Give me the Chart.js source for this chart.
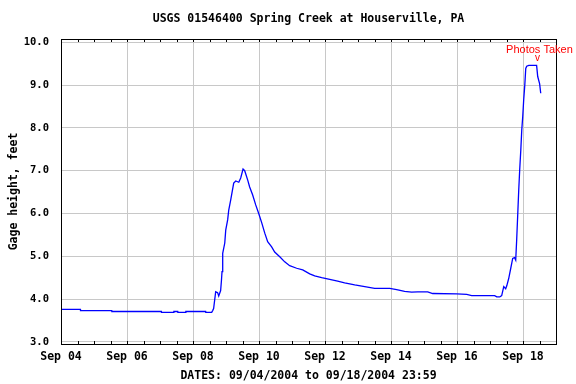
<!DOCTYPE html>
<html>
<head>
<meta charset="utf-8">
<script src="https://cdn.jsdelivr.net/npm/chart.js@4/dist/chart.umd.min.js"></script>
<style>
  html, body { margin: 0; padding: 0; background: #fff; }
  #wrap { width: 576px; height: 384px; }
</style>
</head>
<body>
<div id="wrap"><canvas id="gageChart"></canvas></div>
<script>
// ------- DATA -------
// hours since Sep 04 2004 00:00
var hours = [0, 14.1, 14.2, 36.9, 37.0, 73.0, 73.1, 82.0, 82.1, 84.9, 85.0, 90.7, 90.8, 105.2, 105.3,
  109.6, 110.3, 111.0, 112.5, 113.9, 114.7, 116.1, 116.7, 117.1, 117.6, 119.1, 119.8, 121.2, 122.0,
  123.4, 125.6, 127.1, 129.3, 130.7, 132.4, 133.6, 135.8, 137.2, 139.4, 141.6, 143.8, 146.0, 148.2,
  150.3, 153.2, 155.4, 159.1, 162.7, 166.3, 171.4, 175.8, 180.9, 184.5, 189.6, 195.4, 201.2, 206.3,
  213.6, 220.9, 228.1, 239.1, 244.1, 249.9, 255.0, 259.4, 266.7, 270.3, 287.8, 295.1, 298.7, 315.4,
  316.9, 319.1, 320.5, 322.0, 323.4, 324.2, 325.6, 327.1, 328.5, 329.8, 330.7, 331.4, 332.2, 332.9,
  333.6, 334.4, 335.1, 335.8, 336.5, 337.3, 338.0, 338.7, 340.2, 345.9, 346.7, 348.1, 348.9];

var gageFeet = [3.76, 3.76, 3.73, 3.73, 3.71, 3.71, 3.69, 3.69, 3.71, 3.71, 3.69, 3.69, 3.71, 3.71, 3.69,
  3.69, 3.73, 3.78, 4.17, 4.15, 4.07, 4.20, 4.44, 4.64, 5.07, 5.31, 5.61, 5.85, 6.08,
  6.31, 6.71, 6.76, 6.73, 6.83, 7.04, 7.00, 6.78, 6.62, 6.43, 6.20, 6.00, 5.78, 5.54,
  5.34, 5.22, 5.10, 4.99, 4.87, 4.78, 4.72, 4.68, 4.59, 4.54, 4.50, 4.46, 4.42, 4.38,
  4.33, 4.29, 4.25, 4.25, 4.22, 4.18, 4.16, 4.17, 4.17, 4.13, 4.12, 4.11, 4.08, 4.08,
  4.05, 4.05, 4.08, 4.29, 4.24, 4.31, 4.48, 4.72, 4.95, 4.97, 4.91, 5.38, 6.00, 6.55,
  7.02, 7.48, 7.95, 8.26, 8.65, 9.00, 9.39, 9.44, 9.46, 9.46, 9.20, 9.03, 8.81];

// x tick labels, one every 2 days starting Sep 04
var dateLabels = ['Sep 04', 'Sep 06', 'Sep 08', 'Sep 10', 'Sep 12', 'Sep 14', 'Sep 16', 'Sep 18'];
var yTicks = [3, 4, 5, 6, 7, 8, 9, 10];

var chartTitle = 'USGS 01546400 Spring Creek at Houserville, PA';
var xTitle = 'DATES: 09/04/2004 to 09/18/2004 23:59';
var yTitle = 'Gage height, feet';
var photoLabel = 'Photos Taken';
var photoHour = 346.5;

var monoFont = "'DejaVu Sans Mono', monospace";

// ticks every 12 hours, labels every 48
var xTickValues = [];
for (var h = 0; h <= 360; h += 12) xTickValues.push(h);

// frame, small tick marks and the photo note
var framePlugin = {
  id: 'frame',
  afterDraw: function(chart) {
    var ctx = chart.ctx;
    var a = chart.chartArea;
    var xs = chart.scales.x;
    ctx.save();
    ctx.strokeStyle = '#000';
    ctx.lineWidth = 1;
    ctx.beginPath();
    xTickValues.forEach(function(v) {
      var px = Math.round(xs.getPixelForValue(v)) + 0.5;
      ctx.moveTo(px, a.bottom);
      ctx.lineTo(px, a.bottom - 3);
      ctx.moveTo(px, a.top);
      ctx.lineTo(px, a.top + 3);
    });
    ctx.stroke();
    ctx.strokeRect(Math.round(a.left) + 0.5, Math.round(a.top) + 0.5,
      Math.round(a.right - a.left), Math.round(a.bottom - a.top));

    var px = xs.getPixelForValue(photoHour);
    ctx.fillStyle = '#ff0000';
    ctx.textAlign = 'center';
    ctx.textBaseline = 'middle';
    ctx.font = "11px 'Liberation Sans', Arial, sans-serif";
    ctx.fillText(photoLabel, px + 2, a.top + 11);
    ctx.font = "10px 'Liberation Sans', Arial, sans-serif";
    ctx.fillText('v', px, a.top + 19);
    ctx.restore();
  }
};

var points = hours.map(function(h, i) { return { x: h, y: gageFeet[i] }; });

var gageChart = new Chart(document.getElementById('gageChart'), {
  type: 'line',
  data: {
    datasets: [{
      data: points,
      borderColor: '#0000ff',
      borderWidth: 1.3,
      pointRadius: 0,
      tension: 0,
      fill: false
    }]
  },
  options: {
    responsive: true,
    maintainAspectRatio: false,
    animation: false,
    layout: { padding: { left: 0, right: 20, top: 0, bottom: 0 } },
    plugins: {
      legend: { display: false },
      tooltip: { enabled: false }
    },
    scales: {
      x: {
        type: 'linear',
        position: 'bottom',
        min: 0,
        max: 360,
        afterBuildTicks: function(scale) {
          scale.ticks = xTickValues.map(function(v) { return { value: v }; });
        },
        afterFit: function(scale) { scale.height = 40; },
        ticks: {
          autoSkip: false,
          maxRotation: 0,
          padding: 6,
          color: '#000',
          font: { family: monoFont, size: 11.5, weight: 'bold' },
          callback: function(v) {
            if (v % 48 === 0) return dateLabels[v / 48] || '';
            return '';
          }
        },
        grid: {
          drawTicks: false,
          lineWidth: 1,
          color: function(c) {
            var v = c.tick ? c.tick.value : 0;
            return (v % 48 === 0 && v > 0 && v < 360) ? '#c8c8c8' : 'rgba(0,0,0,0)';
          }
        },
        border: { display: false },
        title: {
          display: true,
          text: xTitle,
          color: '#000',
          padding: { top: 0, bottom: 1 },
          font: { family: monoFont, size: 11.5, weight: 'bold' }
        }
      },
      xTop: {
        type: 'linear',
        position: 'top',
        min: 0,
        max: 360,
        afterFit: function(scale) { scale.height = 39; },
        ticks: { display: false },
        grid: { display: false, drawTicks: false },
        border: { display: false },
        title: {
          display: true,
          text: chartTitle,
          color: '#000',
          padding: { top: 12, bottom: 0 },
          font: { family: monoFont, size: 11.5, weight: 'bold' }
        }
      },
      y: {
        min: 2.95,
        max: 10.077,
        afterBuildTicks: function(scale) {
          scale.ticks = yTicks.map(function(v) { return { value: v }; });
        },
        afterFit: function(scale) { scale.width = 61; },
        ticks: {
          padding: 12,
          color: '#000',
          font: { family: monoFont, size: 10.5, weight: 'bold' },
          callback: function(v) { return v.toFixed(1); }
        },
        grid: {
          drawTicks: false,
          lineWidth: 1,
          color: '#c8c8c8'
        },
        border: { display: false },
        title: {
          display: true,
          text: yTitle,
          color: '#000',
          padding: { top: 7, bottom: 0 },
          font: { family: monoFont, size: 11.5, weight: 'bold' }
        }
      }
    }
  },
  plugins: [framePlugin]
});
</script>
</body>
</html>
